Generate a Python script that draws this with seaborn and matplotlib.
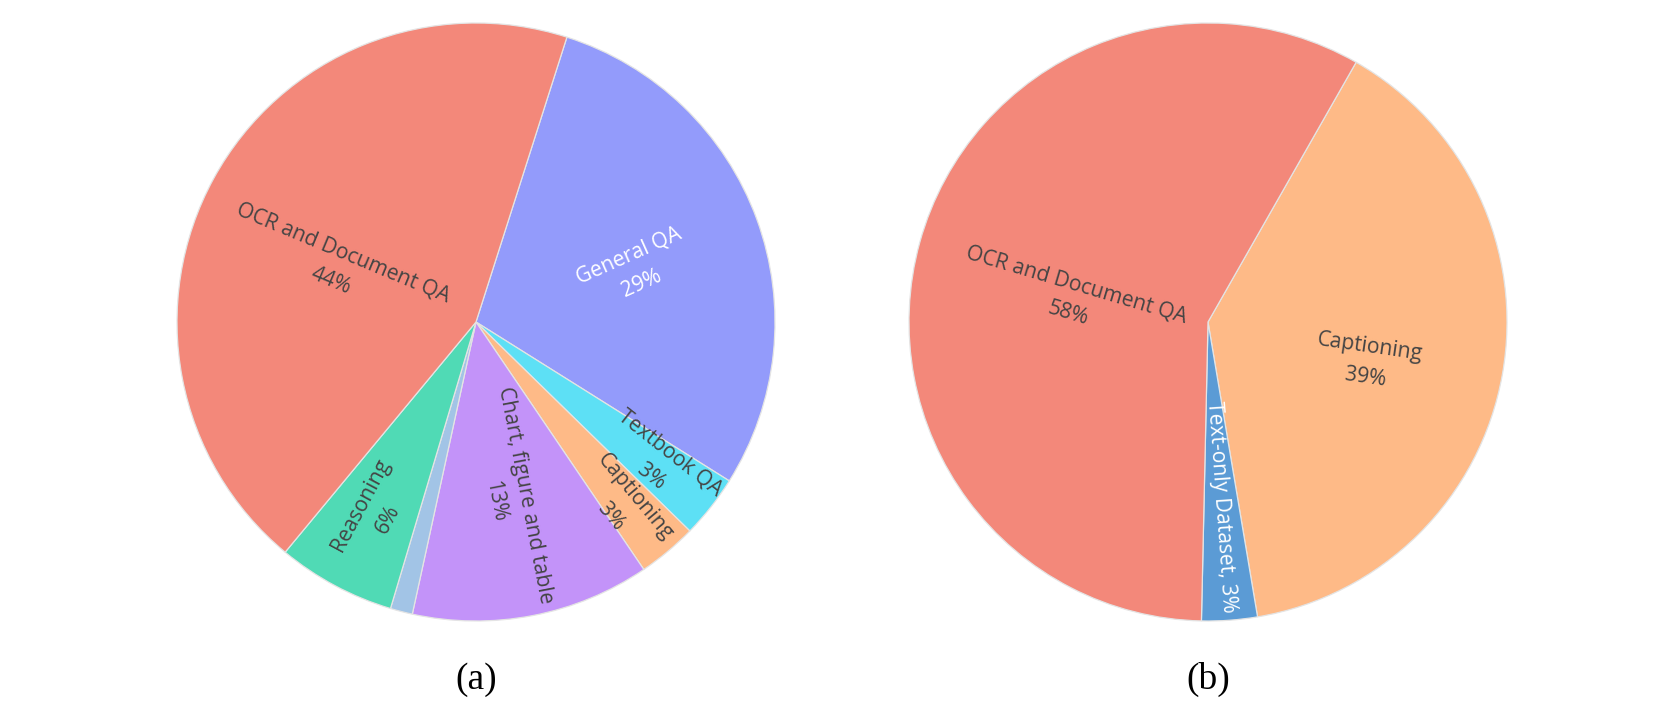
import numpy as np
import matplotlib
matplotlib.use("Agg")
import matplotlib.pyplot as plt
import seaborn as sns

# ---------------- data ----------------
a_labels = ["General QA", "Textbook QA", "Captioning", "Chart, figure and table",
            "Other", "Reasoning", "OCR and Document QA"]
a_values = [29.0, 3.4, 3.2, 12.9, 1.2, 6.4, 43.9]
a_show = [True, True, True, True, False, True, True]

b_labels = ["Captioning", "Text-only Dataset", "OCR and Document QA"]
b_values = [39.1, 3.0, 57.9]
b_show = [True, True, True]

captions = ["(a)", "(b)"]

# ---------------- style ----------------
a_colors = ["#939BFB", "#5DE0F5", "#FEBA87", "#C393F9", "#A2C4E6", "#50DAB5", "#F3887A"]
a_text = ["white", "#444444", "#444444", "#444444", "#444444", "#444444", "#444444"]
a_radius = [0.56, 0.78, 0.79, 0.60, 0.5, 0.72, 0.50]
a_dang = [-2, 0.5, -1.5, 0, 0, 0, 7]   # label position angle offsets
a_drot = [4, 0, 0, 0, 0, 0, 6]         # label rotation offsets
a_sep = ["\n"] * 7

b_colors = ["#FEBA87", "#5B9BD5", "#F3887A"]
b_text = ["#444444", "white", "#444444"]
b_radius = [0.55, 0.62, 0.46]
b_dang = [-4, 0, 6]
b_drot = [2, 0, -1]
b_sep = ["\n", ", ", "\n"]

sns.set_theme(style="white")
plt.rcParams["font.family"] = ["Open Sans", "DejaVu Sans"]

fig = plt.figure(figsize=(16.8, 7.2), dpi=100)
W, H = 1680, 720
R = 299


def make_ax(cx, cy):
    return fig.add_axes([(cx - R) / W, (H - cy - R) / H, 2 * R / W, 2 * R / H])


def radial_rot(deg):
    d = (deg + 180) % 360 - 180
    if d > 90:
        d -= 180
    elif d <= -90:
        d += 180
    return d


def draw(ax, values, labels, colors, tcolors, radii, dang, drot, seps, show,
         startangle, caption):
    wedges, _ = ax.pie(values, colors=colors, startangle=startangle,
                       counterclock=False, radius=1,
                       wedgeprops=dict(edgecolor="#e4e4e4", linewidth=0.9))
    total = float(sum(values))
    for w, v, lab, tc, r, da, dr, sep, sh in zip(wedges, values, labels, tcolors,
                                                  radii, dang, drot, seps, show):
        if not sh:
            continue
        mid = (w.theta1 + w.theta2) / 2.0
        t = np.deg2rad(mid + da)
        pct = int(round(100 * v / total))
        ax.text(r * np.cos(t), r * np.sin(t), f"{lab}{sep}{pct}%",
                rotation=radial_rot(mid) + dr, rotation_mode="anchor",
                ha="center", va="center", fontsize=15.2, color=tc,
                linespacing=1.6)
    ax.set_xlim(-1, 1)
    ax.set_ylim(-1, 1)
    ax.set_aspect("equal")
    ax.axis("off")
    ax.text(0, -1.197, caption, ha="center", va="center", fontsize=27,
            family="Liberation Serif", color="black", clip_on=False)


ax1 = make_ax(476, 322)
draw(ax1, a_values, a_labels, a_colors, a_text, a_radius, a_dang, a_drot, a_sep,
     a_show, 72.3, captions[0])

ax2 = make_ax(1208, 322)
draw(ax2, b_values, b_labels, b_colors, b_text, b_radius, b_dang, b_drot, b_sep,
     b_show, 60.3, captions[1])

fig.savefig("out.png", dpi=100, facecolor="white")
